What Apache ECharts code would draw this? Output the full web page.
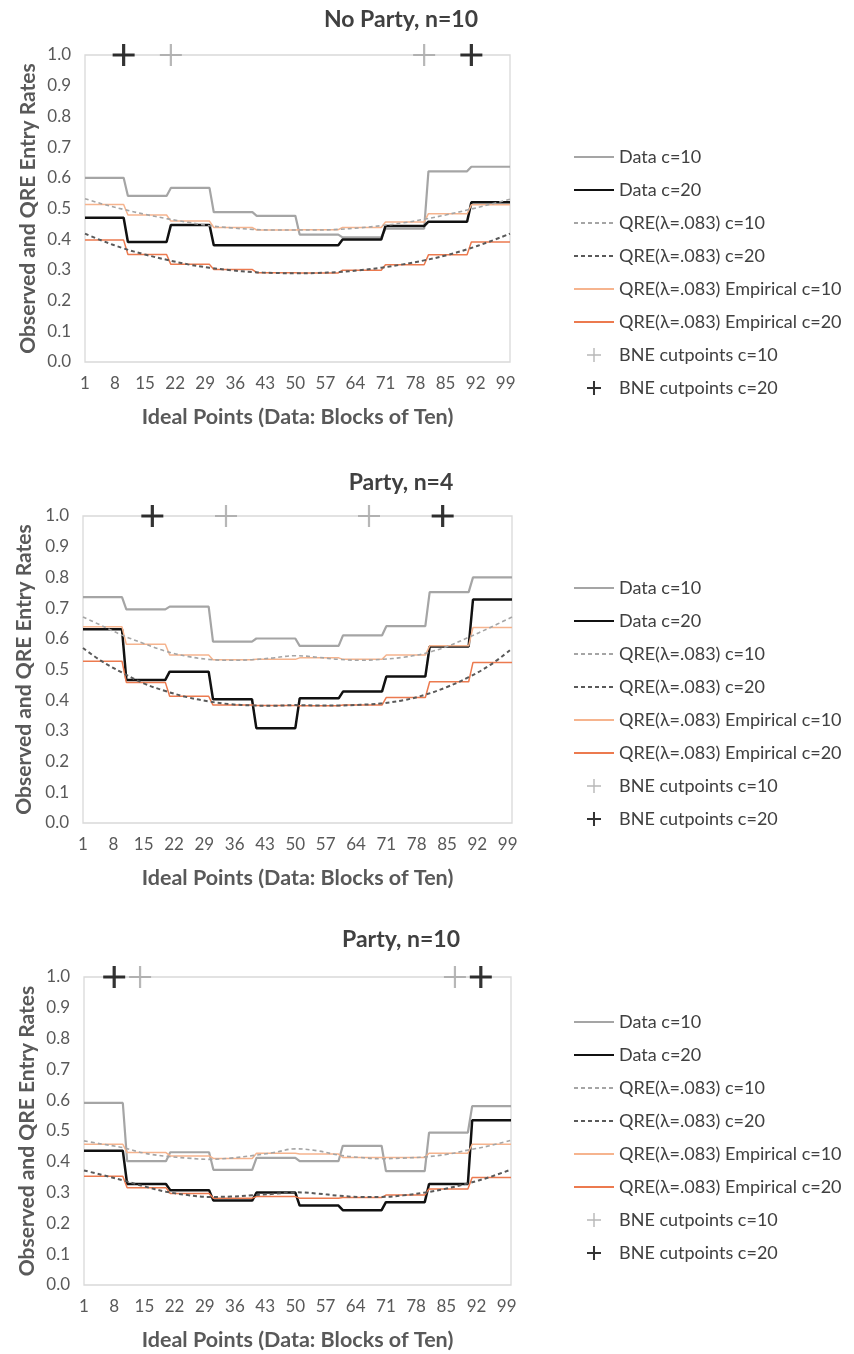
<!DOCTYPE html>
<html><head><meta charset="utf-8">
<script src="https://cdn.jsdelivr.net/npm/echarts@6/dist/echarts.min.js"></script>
<style>html,body{margin:0;padding:0;background:#fff}#c{width:854px;height:1354px}</style>
</head><body><div id="c"></div>
<script>
// ---------- data ----------
const categories = [];
for (let i = 1; i <= 100; i++) categories.push(String(i));
const xTickEvery = 7; // labels 1, 8, 15, ..., 99
const yTicks = ['0.0','0.1','0.2','0.3','0.4','0.5','0.6','0.7','0.8','0.9','1.0'];
const panelTitles = ['No Party, n=10', 'Party, n=4', 'Party, n=10'];
const seriesNames = ['Data c=10', 'Data c=20', 'QRE(λ=.083) c=10', 'QRE(λ=.083) c=20',
  'QRE(λ=.083) Empirical c=10', 'QRE(λ=.083) Empirical c=20', 'BNE cutpoints c=10', 'BNE cutpoints c=20'];

// step series: one value per block of ten ideal points (1-10, 11-20, ..., 91-100)
const np10_data10 = [0.600, 0.541, 0.567, 0.488, 0.476, 0.415, 0.406, 0.434, 0.621, 0.636];
const np10_data20 = [0.470, 0.391, 0.446, 0.380, 0.380, 0.380, 0.399, 0.443, 0.457, 0.520];
const np10_emp10  = [0.513, 0.479, 0.459, 0.438, 0.430, 0.431, 0.438, 0.456, 0.483, 0.512];
const np10_emp20  = [0.397, 0.350, 0.318, 0.301, 0.291, 0.290, 0.299, 0.317, 0.349, 0.391];

const p4_data10 = [0.736, 0.696, 0.705, 0.591, 0.601, 0.577, 0.611, 0.641, 0.752, 0.800];
const p4_data20 = [0.631, 0.466, 0.493, 0.403, 0.309, 0.406, 0.428, 0.477, 0.575, 0.728];
const p4_emp10  = [0.639, 0.582, 0.547, 0.532, 0.533, 0.538, 0.533, 0.547, 0.577, 0.637];
const p4_emp20  = [0.527, 0.458, 0.413, 0.384, 0.383, 0.382, 0.384, 0.409, 0.460, 0.523];

const p10_data10 = [0.591, 0.402, 0.431, 0.374, 0.413, 0.402, 0.452, 0.370, 0.495, 0.581];
const p10_data20 = [0.436, 0.328, 0.308, 0.274, 0.300, 0.258, 0.243, 0.269, 0.328, 0.535];
const p10_emp10  = [0.457, 0.430, 0.419, 0.411, 0.428, 0.425, 0.414, 0.414, 0.428, 0.457];
const p10_emp20  = [0.353, 0.316, 0.297, 0.282, 0.287, 0.282, 0.284, 0.292, 0.312, 0.349];

// smooth QRE curves, read at these ideal points
const qreX = ['1','5','10','15','20','25','30','35','40','45','50','55','60','65','70','75','80','85','90','95','100'];
const np10_qre10 = [0.532, 0.515, 0.497, 0.481, 0.467, 0.455, 0.444, 0.437, 0.432, 0.430, 0.430, 0.430, 0.432, 0.437, 0.444, 0.453, 0.465, 0.479, 0.495, 0.512, 0.530];
const np10_qre20 = [0.418, 0.395, 0.370, 0.350, 0.333, 0.318, 0.307, 0.299, 0.293, 0.290, 0.289, 0.290, 0.293, 0.299, 0.307, 0.318, 0.331, 0.347, 0.367, 0.391, 0.418];
const p4_qre10 = [0.671, 0.645, 0.612, 0.585, 0.560, 0.543, 0.533, 0.530, 0.532, 0.538, 0.545, 0.540, 0.533, 0.530, 0.533, 0.540, 0.553, 0.575, 0.605, 0.637, 0.671];
const p4_qre20 = [0.570, 0.530, 0.490, 0.455, 0.430, 0.410, 0.396, 0.387, 0.383, 0.382, 0.384, 0.383, 0.383, 0.385, 0.390, 0.400, 0.418, 0.443, 0.475, 0.515, 0.568];
const p10_qre10 = [0.468, 0.458, 0.446, 0.428, 0.418, 0.412, 0.408, 0.412, 0.420, 0.430, 0.442, 0.436, 0.422, 0.414, 0.410, 0.412, 0.416, 0.424, 0.438, 0.452, 0.470];
const p10_qre20 = [0.372, 0.358, 0.340, 0.320, 0.303, 0.292, 0.286, 0.287, 0.291, 0.296, 0.301, 0.297, 0.290, 0.286, 0.286, 0.291, 0.300, 0.313, 0.330, 0.350, 0.375];

// BNE cutpoints (ideal points where entry = 1.0)
const np10_bne10 = ['21', '80'];
const np10_bne20 = ['10', '91'];
const p4_bne10 = ['34', '67'];
const p4_bne20 = ['17', '84'];
const p10_bne10 = ['14', '87'];
const p10_bne20 = ['8', '93'];

// ---------- build ----------
const panels = [
  {d10: np10_data10, d20: np10_data20, e10: np10_emp10, e20: np10_emp20, q10: np10_qre10, q20: np10_qre20, b10: np10_bne10, b20: np10_bne20},
  {d10: p4_data10, d20: p4_data20, e10: p4_emp10, e20: p4_emp20, q10: p4_qre10, q20: p4_qre20, b10: p4_bne10, b20: p4_bne20},
  {d10: p10_data10, d20: p10_data20, e10: p10_emp10, e20: p10_emp20, q10: p10_qre10, q20: p10_qre20, b10: p10_bne10, b20: p10_bne20}
];
const grids = [
  {left: 85, top: 55, width: 425, height: 307},
  {left: 83, top: 516, width: 429, height: 307},
  {left: 84, top: 977, width: 427, height: 308}
];
const titleTops = [8, 471, 928];
const legendTops = [148, 579, 1013];

const FONT = 'Lato, "Open Sans", sans-serif';
const AXIS_COLOR = '#595959';
const crossBlack = 'path://M9.4,0H12.6V9.4H22V12.6H12.6V22H9.4V12.6H0V9.4H9.4Z';
const crossGray = 'path://M9.9,0H12.1V9.9H22V12.1H12.1V22H9.9V12.1H0V9.9H9.9Z';

function expandBlocks(blocks) {
  const out = [];
  blocks.forEach(v => { for (let k = 0; k < 10; k++) out.push(v); });
  return out;
}
function pairs(xs, ys) { return xs.map((x, i) => [x, ys[i]]); }

const legendData = seriesNames.map((n, k) => k < 6 ? {name: n, itemStyle: {opacity: 0}} : {name: n});

const option = {
  animation: false,
  backgroundColor: '#fff',
  textStyle: {fontFamily: FONT},
  title: [], grid: [], xAxis: [], yAxis: [], legend: [], series: []
};

panels.forEach((p, i) => {
  option.title.push({
    text: panelTitles[i], left: 401, top: titleTops[i], textAlign: 'center', padding: 0,
    textStyle: {fontFamily: FONT, fontSize: 23, fontWeight: 'bold', color: '#404040'}
  });
  option.grid.push(Object.assign({show: true, borderColor: '#d9d9d9', borderWidth: 1.3, backgroundColor: 'transparent'}, grids[i]));
  option.xAxis.push({
    type: 'category', gridIndex: i, data: categories, boundaryGap: false,
    axisLine: {show: false}, axisTick: {show: false}, splitLine: {show: false},
    axisLabel: {interval: xTickEvery - 1, fontSize: 17, color: AXIS_COLOR, margin: 13, fontFamily: FONT},
    name: 'Ideal Points (Data: Blocks of Ten)', nameLocation: 'middle', nameGap: 44,
    nameTextStyle: {fontSize: 21.5, fontWeight: 'bold', color: AXIS_COLOR, fontFamily: FONT}
  });
  option.yAxis.push({
    type: 'value', gridIndex: i, min: 0, max: 1, interval: 0.1,
    axisLine: {show: false}, axisTick: {show: false}, splitLine: {show: false},
    axisLabel: {formatter: v => yTicks[Math.round(v * 10)], fontSize: 17, color: AXIS_COLOR, margin: 14, fontFamily: FONT},
    name: 'Observed and QRE Entry Rates', nameLocation: 'middle', nameGap: 46, nameRotate: 90,
    nameTextStyle: {fontSize: 21, fontWeight: 'bold', color: AXIS_COLOR, fontFamily: FONT}
  });
  option.legend.push({
    orient: 'vertical', left: 573, top: legendTops[i], itemWidth: 40, itemHeight: 14, itemGap: 15,
    padding: 0, selectedMode: false,
    textStyle: {fontSize: 18, color: '#404040', fontFamily: FONT},
    data: legendData
  });
  const base = {xAxisIndex: i, yAxisIndex: i};
  const line = (name, data, color, width, type, z, smooth) => Object.assign({
    type: 'line', name, data, symbol: 'none', showSymbol: false, smooth: smooth || false,
    lineStyle: {color, width, type: type || 'solid'}, itemStyle: {color}, z
  }, base);
  option.series.push(line(seriesNames[0], expandBlocks(p.d10), '#a5a5a5', 2.2, 'solid', 2));
  option.series.push(line(seriesNames[1], expandBlocks(p.d20), '#111111', 2.5, 'solid', 3));
  option.series.push(line(seriesNames[4], expandBlocks(p.e10), '#f6b48e', 1.5, 'solid', 4));
  option.series.push(line(seriesNames[5], expandBlocks(p.e20), '#ec7a4f', 1.5, 'solid', 4));
  option.series.push(line(seriesNames[2], pairs(qreX, p.q10), '#a5a5a5', 1.6, [4, 3], 5, 0.4));
  option.series.push(line(seriesNames[3], pairs(qreX, p.q20), '#595959', 2, [4, 3], 5, 0.4));
  option.series.push(Object.assign({
    type: 'scatter', name: seriesNames[6], data: p.b10.map(x => [x, 1.0]), symbol: crossGray, symbolSize: 22,
    itemStyle: {color: '#a5a5a5'}, clip: false, z: 6
  }, base));
  option.series.push(Object.assign({
    type: 'scatter', name: seriesNames[7], data: p.b20.map(x => [x, 1.0]), symbol: crossBlack, symbolSize: 22,
    itemStyle: {color: '#000000'}, clip: false, z: 7
  }, base));
});

const chart = echarts.init(document.getElementById('c'), null, {renderer: 'canvas'});
chart.setOption(option);
</script>
</body></html>
